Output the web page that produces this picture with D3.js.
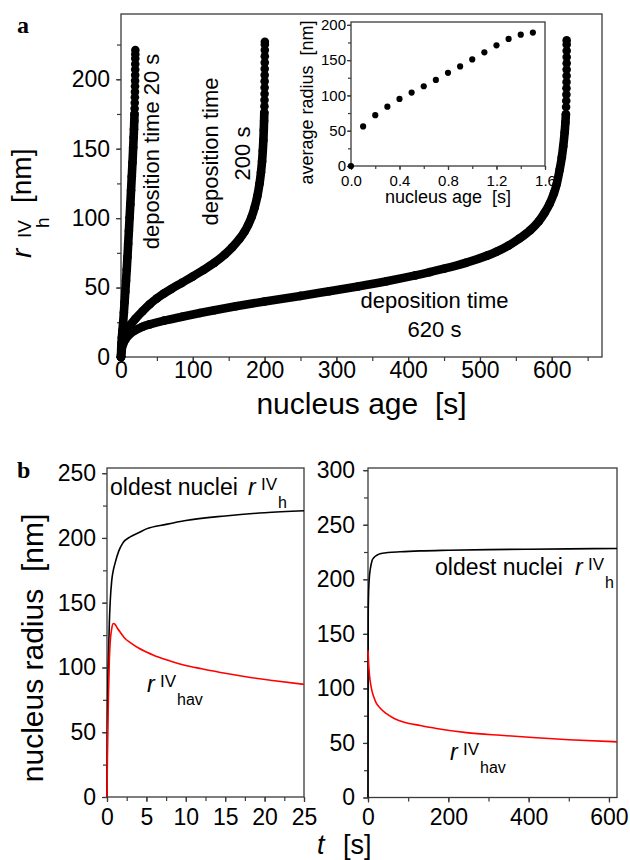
<!DOCTYPE html>
<html>
<head>
<meta charset="utf-8">
<script src="https://cdnjs.cloudflare.com/ajax/libs/d3/7.8.5/d3.min.js"></script>
<style>
  body { margin: 0; background: #fff; }
  svg text { font-family: "Liberation Sans", Arial, sans-serif; fill: #000; }
</style>
</head>
<body>
<div id="chart"></div>
<script>
// ---- panel a: size of the oldest nuclei vs nucleus age (three deposition times)
const age20 = [0, 0.3, 0.7, 1.2, 2, 3, 4, 5, 6, 7, 8, 9, 10, 11, 12, 13, 14, 15, 16, 17, 17.6, 18.1, 18.5, 18.8,
    19.0, 19.15, 19.3, 19.45, 19.55, 19.65, 19.75, 19.8, 19.85, 19.9, 19.95, 20];
const rad20 = [0, 6, 10, 14, 19, 25, 32, 39.5, 47, 55, 63, 72, 81.5, 91, 100.5, 110, 120, 130, 140, 151, 158, 164, 170, 175,
    179, 183, 187, 191, 195, 199, 203, 207, 211, 215, 218, 221];

const age200 = [0, 2, 5, 10, 20, 30, 40, 50, 60, 70, 85, 100, 115, 130, 145, 155, 165, 172, 177, 182, 186, 190, 193, 195, 196.5, 197.5, 198.3, 198.9, 199.3, 199.6,
    199.8, 199.9, 200, 200.05, 200.1, 200.15, 200.2, 200.25, 200.3, 200.35, 200.4, 200.4];
const rad200 = [0, 10, 16, 21, 27.5, 33, 38, 42.2, 45.8, 49, 53.5, 58, 62.7, 67.8, 74, 79, 85, 90.2, 95, 101, 107.5, 116, 125, 133, 141, 148.5, 156, 163.5, 170, 176,
    180.5, 185, 189.5, 194, 198.5, 203, 207.5, 212, 216.5, 221, 225, 227];

const age620 = [0, 1, 3, 6, 10, 20, 30, 40, 60, 85, 110, 130, 160, 200, 250, 290, 330, 370, 410, 430, 450, 480, 510, 523, 540, 555, 570, 582, 590, 597, 603, 607, 611, 614, 616, 618, 619, 619.7,
    620, 620.2, 620.4, 620.5, 620.6, 620.7, 620.75, 620.8, 620.8, 620.8, 620.8, 620.8];
const rad620 = [0, 5.5, 9.3, 12.5, 15.3, 19.3, 21.8, 23.5, 26.2, 29, 31.7, 33.7, 36.5, 40, 44, 47.3, 50.8, 54.6, 58.8, 61.1, 63.6, 67.8, 73, 75.8, 80.3, 85.3, 91.3, 97.8, 103.8, 110.3, 117.8, 124.8, 134.8, 143.8, 151.8, 161.8, 168.8, 174.8,
    180, 184.5, 189, 193.5, 198, 202.5, 207, 211.5, 216, 220.5, 225, 228];

// inset: average radius, deposition time 1.5 s
const insetAge = [0, 0.1, 0.2, 0.3, 0.4, 0.5, 0.6, 0.7, 0.8, 0.9, 1.0, 1.1, 1.2, 1.3, 1.4, 1.5];
const insetRad = [0, 56, 72, 84, 95, 104, 113, 122, 132, 141, 151, 161, 171, 180, 186, 189];

// ---- panel b: oldest nuclei radius and average radius vs time
const tLeft = [0, 0.05, 0.1, 0.2, 0.3, 0.4, 0.6, 0.8, 1, 1.5, 2, 3, 4, 5, 7.5, 10, 15, 20, 25];
const oldLeft = [0, 55, 85, 112, 135, 150, 167, 175, 180, 190, 196, 201, 204, 207, 210.5, 213.5, 217, 219.5, 221];
const tAvgLeft = [0, 0.05, 0.1, 0.2, 0.3, 0.4, 0.6, 0.8, 1.0, 1.3, 1.7, 2.2, 3, 4, 5, 6.5, 8, 10, 12, 15, 18, 21, 25];
const avgLeft = [0, 30, 52, 82, 106, 119, 130, 134, 133.5, 130.5, 127, 123, 119, 115, 112, 108, 105, 101.5, 99, 95.5, 92.5, 90, 87];

const tRight = [0, 0.5, 1, 3, 6, 10, 15, 22, 30, 50, 80, 130, 200, 300, 400, 500, 620];
const oldRight = [0, 165, 180, 200, 210, 217, 220, 222, 223.4, 224.5, 225.2, 226, 226.6, 227.2, 227.6, 227.9, 228.2];
const tAvgRight = [0, 2, 4, 7, 10, 14, 20, 30, 45, 64, 90, 130, 170, 245, 330, 410, 500, 620];
const avgRight = [135, 120, 111, 103, 97.5, 92.5, 87, 82, 77, 72.7, 69, 66, 63.3, 59.5, 57, 55, 53, 51];

// tick values
const aTicksX = [0, 100, 200, 300, 400, 500, 600];
const aMinorX = d3.range(0, 651, 50);
const aTicksY = [0, 50, 100, 150, 200];
const aMinorY = d3.range(0, 226, 25);
const inTicksX = [0, 0.4, 0.8, 1.2, 1.6];
const inMinorX = [0, 0.2, 0.4, 0.6, 0.8, 1.0, 1.2, 1.4, 1.6];
const inTicksY = [0, 50, 100, 150, 200];
const inMinorY = d3.range(0, 201, 25);
const bLTicksX = [0, 5, 10, 15, 20, 25];
const bLMinorX = d3.range(0, 25.1, 2.5);
const bLTicksY = [0, 50, 100, 150, 200, 250];
const bLMinorY = d3.range(0, 251, 25);
const bRTicksX = [0, 200, 400, 600];
const bRMinorX = [0, 100, 200, 300, 400, 500, 600];
const bRTicksY = [0, 50, 100, 150, 200, 250, 300];
const bRMinorY = d3.range(0, 301, 25);

const svg = d3.select('#chart').append('svg')
    .attr('width', 630)
    .attr('height', 860);

const FRAME = '#3a3a3a';
const DOT_R = 4.3;
const LINE_TOP = 176;   // above this the dots of panel a stand apart

// frame + major/minor ticks for one plot box
function drawAxes(x, y, o) {
    const g = svg.append('g');
    const [x0, x1] = x.range();
    const [y0, y1] = y.range();

    const bottom = (vals, len, fmt, pad) => g.append('g')
        .attr('transform', `translate(0,${y0})`)
        .call(d3.axisBottom(x).tickValues(vals).tickSize(len).tickPadding(pad || 0).tickFormat(fmt))
        .call(s => s.select('.domain').remove())
        .attr('font-size', o.font).attr('font-family', null);
    const left = (vals, len, fmt, pad) => g.append('g')
        .attr('transform', `translate(${x0},0)`)
        .call(d3.axisLeft(y).tickValues(vals).tickSize(len).tickPadding(pad || 0).tickFormat(fmt))
        .call(s => s.select('.domain').remove())
        .attr('font-size', o.font).attr('font-family', null);

    bottom(o.xMinor, o.minorLen, '');
    bottom(o.xTicks, o.majorLen, o.xFmt, o.xPad);
    left(o.yMinor, o.minorLen, '');
    left(o.yTicks, o.majorLen, d3.format('d'), o.yPad);
    g.selectAll('.tick line').attr('stroke', FRAME).attr('stroke-width', 1.2);
    g.selectAll('.tick text').attr('fill', '#000');

    g.append('rect')
        .attr('x', x0).attr('y', y1)
        .attr('width', x1 - x0).attr('height', y0 - y1)
        .attr('fill', 'none')
        .attr('stroke', FRAME)
        .attr('stroke-width', 1.3);
    return g;
}

function label(g, str, x, y, size, opts = {}) {
    return g.append('text')
        .attr('x', x).attr('y', y)
        .attr('font-size', size)
        .attr('text-anchor', opts.anchor || 'start')
        .attr('font-style', opts.italic ? 'italic' : null)
        .attr('font-weight', opts.bold ? 'bold' : null)
        .style('font-family', opts.serif ? '"Liberation Serif", "Times New Roman", serif' : null)
        .text(str);
}

// ================= panel a =================
const xA = d3.scaleLinear().domain([0, 670]).range([121, 602]);
const yA = d3.scaleLinear().domain([0, 247]).range([357, 14]);
drawAxes(xA, yA, {
    xTicks: aTicksX, xMinor: aMinorX, yTicks: aTicksY, yMinor: aMinorY,
    majorLen: 5, minorLen: 4, font: 23, xPad: 0, yPad: 6, xFmt: d3.format('d')
});

// dense part drawn as a thick smooth band, every point also as a dot
const lineA = d3.line().x(d => xA(d[0])).y(d => yA(d[1])).curve(d3.curveCatmullRom.alpha(0.5));
[[age20, rad20], [age200, rad200], [age620, rad620]].forEach(([ages, rads]) => {
    const pts = d3.zip(ages, rads);
    svg.append('path')
        .attr('d', lineA(pts.filter(d => d[1] <= LINE_TOP)))
        .attr('fill', 'none')
        .attr('stroke', '#000')
        .attr('stroke-width', DOT_R * 2)
        .attr('stroke-linecap', 'round')
        .attr('stroke-linejoin', 'round');
    svg.append('g').selectAll('circle')
        .data(pts)
        .enter()
        .append('circle')
        .attr('cx', d => xA(d[0]))
        .attr('cy', d => yA(d[1]))
        .attr('r', DOT_R)
        .attr('fill', '#000');
});

const topG = svg.append('g');
label(topG, 'a', 17, 33, 24, { bold: true, serif: true });
label(topG, 'nucleus age\u00a0\u00a0[s]', 361.5, 414, 30, { anchor: 'middle' });

// y title: r^IV_h [nm]
const yt = topG.append('g').attr('transform', 'translate(31,258) rotate(-90)');
label(yt, 'r', 0, 0, 28, { italic: true });
label(yt, 'IV', 20, 0, 19);
label(yt, 'h', 30, 18, 19);
label(yt, '[nm]', 55, 0, 28);

// curve labels
label(topG.append('g').attr('transform', 'translate(158.5,151.5) rotate(-90)'),
    'deposition time 20 s', 0, 0, 22, { anchor: 'middle' });
label(topG.append('g').attr('transform', 'translate(217.5,151.5) rotate(-90)'),
    'deposition time', 0, 0, 22, { anchor: 'middle' });
label(topG.append('g').attr('transform', 'translate(250,153.5) rotate(-90)'),
    '200 s', 0, 0, 22, { anchor: 'middle' });
label(topG, 'deposition time', 434.5, 308, 22, { anchor: 'middle' });
label(topG, '620 s', 434.5, 337, 22, { anchor: 'middle' });

// ---- inset
const xI = d3.scaleLinear().domain([0, 1.6]).range([351, 545]);
const yI = d3.scaleLinear().domain([0, 204]).range([166, 22]);
svg.append('rect').attr('x', 351).attr('y', 22).attr('width', 194).attr('height', 144).attr('fill', '#fff');
drawAxes(xI, yI, {
    xTicks: inTicksX, xMinor: inMinorX, yTicks: inTicksY, yMinor: inMinorY,
    majorLen: 4, minorLen: 3, font: 15, xPad: 5, yPad: 1, xFmt: d3.format('.1f')
});
svg.append('g').selectAll('circle')
    .data(d3.zip(insetAge, insetRad))
    .enter()
    .append('circle')
    .attr('cx', d => xI(d[0]))
    .attr('cy', d => yI(d[1]))
    .attr('r', 3.1)
    .attr('fill', '#000');
label(topG, 'nucleus age\u00a0\u00a0[s]', 448, 203, 18, { anchor: 'middle' });
label(topG.append('g').attr('transform', 'translate(313,102.5) rotate(-90)'),
    'average radius\u00a0\u00a0[nm]', 0, 0, 18, { anchor: 'middle' });
label(topG, 'deposition time', 473.5, 130, 17.5, { anchor: 'middle' });
label(topG, '1.5 s', 474, 153, 17.5, { anchor: 'middle' });

// ================= panel b =================
const xBL = d3.scaleLinear().domain([0, 25]).range([107, 304]);
const yBL = d3.scaleLinear().domain([0, 254]).range([797, 468]);
const xBR = d3.scaleLinear().domain([0, 620]).range([368, 617]);
const yBR = d3.scaleLinear().domain([0, 302]).range([797.5, 468]);

drawAxes(xBL, yBL, {
    xTicks: bLTicksX, xMinor: bLMinorX, yTicks: bLTicksY, yMinor: bLMinorY,
    majorLen: 5, minorLen: 4, font: 23, xPad: 7, yPad: 6, xFmt: d3.format('d')
});
drawAxes(xBR, yBR, {
    xTicks: bRTicksX, xMinor: bRMinorX, yTicks: bRTicksY, yMinor: bRMinorY,
    majorLen: 5, minorLen: 4, font: 23, xPad: 6, yPad: 8, xFmt: d3.format('d')
});

function curve(x, y, ts, rs, color) {
    svg.append('path')
        .attr('d', d3.line().x(d => x(d[0])).y(d => y(d[1])).curve(d3.curveMonotoneX)(d3.zip(ts, rs)))
        .attr('fill', 'none')
        .attr('stroke', color)
        .attr('stroke-width', 1.6);
}
curve(xBL, yBL, tLeft, oldLeft, '#000');
curve(xBL, yBL, tAvgLeft, avgLeft, '#f00');
curve(xBR, yBR, tRight, oldRight, '#000');
curve(xBR, yBR, tAvgRight, avgRight, '#f00');

const bot = svg.append('g');
label(bot, 'b', 17, 478, 24, { bold: true, serif: true });

label(bot, 'oldest nuclei', 110, 495, 23);
label(bot, 'r', 248, 495, 23, { italic: true });
label(bot, 'IV', 261, 490, 17);
label(bot, 'h', 278, 508, 16);

label(bot, 'oldest nuclei', 435, 575, 23);
label(bot, 'r', 575, 575, 23, { italic: true });
label(bot, 'IV', 588, 570, 17);
label(bot, 'h', 605, 588, 16);

label(bot, 'r', 147, 692, 23, { italic: true });
label(bot, 'IV', 160, 687, 17);
label(bot, 'hav', 177, 705, 16);

label(bot, 'r', 450, 760, 23, { italic: true });
label(bot, 'IV', 463, 755, 17);
label(bot, 'hav', 480, 773, 16);

label(bot.append('g').attr('transform', 'translate(43,648) rotate(-90)'),
    'nucleus radius\u00a0\u00a0[nm]', 0, 0, 30, { anchor: 'middle' });
label(bot, 't', 317, 854, 27, { italic: true });
label(bot, '[s]', 343, 854, 27);
</script>
</body>
</html>
